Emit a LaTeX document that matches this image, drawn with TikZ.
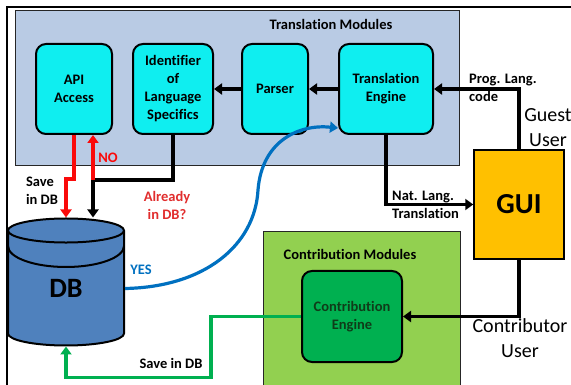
\documentclass[tikz,border=0pt]{standalone}
\usepackage{fontspec}
\setmainfont{Carlito}[Ligatures=NoCommon]
\usetikzlibrary{arrows.meta,shapes.geometric}
\definecolor{modblue}{RGB}{185,203,228}
\definecolor{boxcyan}{RGB}{15,238,240}
\definecolor{guiorange}{RGB}{255,192,0}
\definecolor{modgreen}{RGB}{146,208,80}
\definecolor{enggreen}{RGB}{0,176,80}
\definecolor{dbblue}{RGB}{79,129,189}
\definecolor{yesblue}{RGB}{0,112,192}
\definecolor{nored}{RGB}{250,10,10}
\definecolor{labelred}{RGB}{225,45,45}
\definecolor{textgreen}{RGB}{15,60,25}

\begin{document}
\begin{tikzpicture}
		[	x=1pt,y=-1pt,
		box/.style={rectangle,rounded corners=10pt,draw=black,line width=2pt,fill=boxcyan,align=center,inner sep=0pt,font=\fontsize{14.5}{18}\selectfont\bfseries},
		module/.style={rectangle,draw=black!85,line width=1pt,inner sep=0pt},
		plain/.style={draw=none,fill=none,align=left,inner sep=0pt,font=\fontsize{14.5}{18}\selectfont\bfseries},
		user/.style={draw=none,fill=none,align=center,inner sep=0pt,font=\fontsize{20}{24.5}\selectfont},
		conn/.style={-{Triangle[length=8pt,width=11pt]},line width=3.2pt}
		]
		\useasboundingbox (0,0) rectangle (571,385);
		\draw[line width=1.5pt] (7,385) -- (7,7) -- (571,7);

		% module frames
		\node[module,fill=modblue,minimum width=444pt,minimum height=155pt] (tmod) at (237,88.5){};
		\node[module,fill=modgreen,minimum width=197pt,minimum height=160pt] (cmod) at (361.5,312){};
		\node[plain] (tmodtitle) at (331,24){Translation Modules};
		\node[plain] (cmodtitle) at (350,254){Contribution Modules};

		\node[box,minimum width=76pt,minimum height=90pt] (api) at (74,89){API\\Access};
		\node[box,minimum width=80pt,minimum height=90pt] (ident) at (173,89){Identifier\\of\\Language\\Specifics};
		\node[box,minimum width=66pt,minimum height=90pt] (parser) at (275,89){Parser};
		\node[box,minimum width=94pt,minimum height=90pt] (engine) at (386,89){Translation\\Engine};
		\node[box,fill=enggreen,text=textgreen,minimum width=100pt,minimum height=91pt] (ceng) at (352,316.5){Contribution\\Engine};

		\node[rectangle,draw=black,line width=1.5pt,fill=guiorange,minimum width=90pt,minimum height=109pt,font=\fontsize{29}{30}\selectfont\bfseries] (gui) at (519,204.5){GUI};
		\node[cylinder,shape border rotate=90,aspect=0.72,draw=black,line width=2pt,fill=dbblue,minimum width=116pt,minimum height=127pt,inner sep=0pt,font=\fontsize{28}{30}\selectfont\bfseries] (db) at (66,288.5){DB};
		\draw[line width=2pt] (8,246) arc[start angle=180,end angle=360,x radius=58pt,y radius=21pt];

		\node[user] (guest) at (548,127.5){Guest\\User};
		\node[user] (contrib) at (520,338){Contributor\\User};

		\draw[conn] (engine) -- (parser);
		\draw[conn] (parser) -- (ident);
		\draw[conn] (gui.north) |- (engine);
		\draw[conn] (engine) |- (gui);
		\draw[conn] (gui) |- (ceng);
		\node[plain,anchor=west] (prog) at (469,88){Prog. Lang.\\code};
		\node[plain,anchor=west] (nat) at (392,205){Nat. Lang.\\Translation};

		\coordinate (split) at (93,180);
		\draw[conn] (ident) |- (split) -- (split |- db.north);
		\draw[conn,nored] (api.south) -- ++(0,44) -| (db.north);
		\draw[conn,nored] (split) -- (split |- api.south);
		\node[plain] (save) at (42,190.5){Save\\in DB};
		\node[plain,text=nored] (no) at (108,158){NO};
		\node[plain,align=center,text=labelred] (already) at (167,205){Already\\in DB?};

		\draw[conn,yesblue] (db.east) .. controls (205,287) and (255,245) .. (258,190) .. controls (262,140) and (300,124) .. ([yshift=7pt]engine.south west);
		\node[plain,text=yesblue] (yes) at (141,270){YES};

		\draw[conn,enggreen] (ceng.west) -- ++(-90,0) -- ++(0,61) -| (db.south);
		\node[plain] (savegreen) at (171,363){Save in DB};
	\end{tikzpicture}
\end{document}
